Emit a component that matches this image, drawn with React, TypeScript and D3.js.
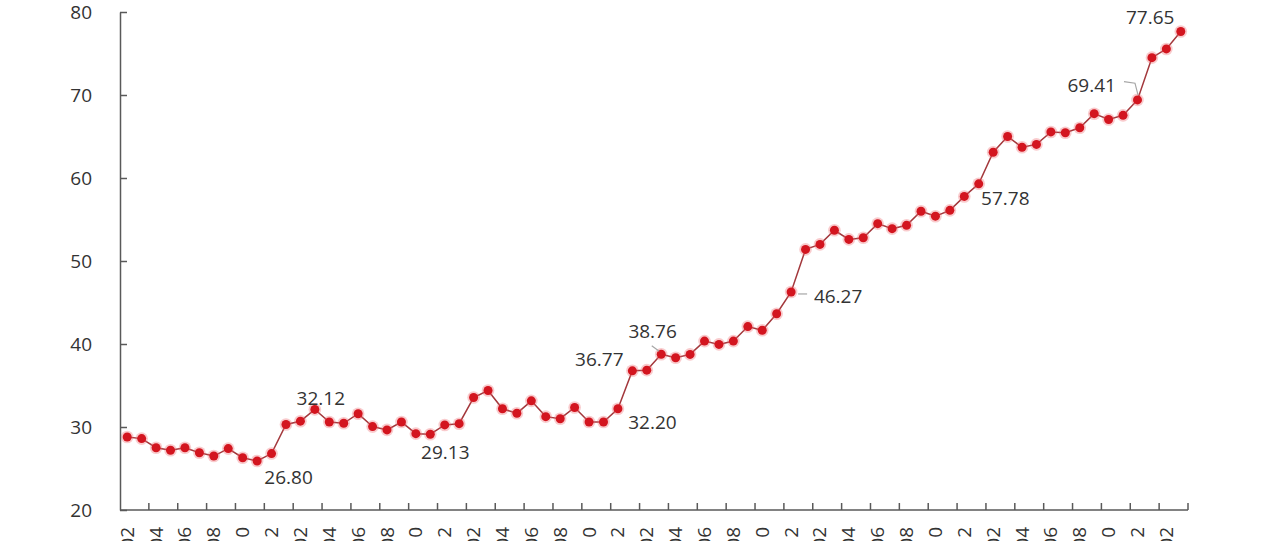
import React, { useEffect, useRef } from 'react';
import * as d3 from 'd3';

// monthly values, 2017-02 .. 2023-03
const values: number[] = [
  28.8, 28.6, 27.5, 27.2, 27.5, 26.9, 26.5, 27.4, 26.3, 25.9, 26.8, 30.3,
  30.7, 32.12, 30.6, 30.45, 31.6, 30.05, 29.65, 30.6, 29.2, 29.13, 30.25, 30.4,
  33.55, 34.4, 32.2, 31.65, 33.15, 31.25, 31.0, 32.35, 30.6, 30.6, 32.2, 36.77,
  36.85, 38.76, 38.35, 38.75, 40.35, 39.95, 40.35, 42.1, 41.65, 43.65, 46.27, 51.4,
  52.0, 53.7, 52.6, 52.8, 54.5, 53.9, 54.3, 56.0, 55.4, 56.1, 57.78, 59.3,
  63.1, 65.0, 63.7, 64.05, 65.55, 65.45, 66.05, 67.75, 67.05, 67.55, 69.41, 74.5,
  75.55, 77.65,
];

const startYear = 2017;
const startMonth = 2;
const categories: string[] = values.map((_, i) => {
  const m = startMonth - 1 + i;
  const y = startYear + Math.floor(m / 12);
  return `${y}-${String((m % 12) + 1).padStart(2, '0')}`;
});

const yTicks: number[] = [20, 30, 40, 50, 60, 70, 80];

// indices of points that carry a value label
const labelIndex: number[] = [10, 13, 21, 34, 35, 37, 46, 58, 70, 73];

// label placement relative to the point (px), and optional leader lines
const labelLayout: Record<number, { dx: number; dy: number; leader?: [number, number][] }> = {
  10: { dx: 17, dy: 23.5 },
  13: { dx: 6, dy: -11 },
  21: { dx: 15, dy: 17.5 },
  34: { dx: 34.5, dy: 13.7 },
  35: { dx: -33, dy: -11.7 },
  37: { dx: -8.6, dy: -23.4, leader: [[-9.5, -8.5], [-2, -3]] },
  46: { dx: 47, dy: 4.5, leader: [[7, 2], [16, 2]] },
  58: { dx: 41, dy: 1.5 },
  70: { dx: -45.8, dy: -14.3, leader: [[-13.5, -18.3], [-2.5, -16.7], [0.5, -5]] },
  73: { dx: -30.6, dy: -14 },
};

const App: React.FC = () => {
  const svgRef = useRef<SVGSVGElement>(null);

  useEffect(() => {
    if (!svgRef.current) return;
    const svg = d3.select(svgRef.current);
    svg.selectAll('*').remove();

    const width = 1280;
    const height = 541;
    const margin = { top: 12, right: 92, bottom: 31, left: 120 };
    const font = '"Open Sans", sans-serif';
    const fontSize = '19px';
    const textColor = '#333333';
    const axisColor = '#595959';

    svg.attr('width', width).attr('height', height);

    const x = d3
      .scaleBand<string>()
      .domain(categories)
      .range([margin.left, width - margin.right])
      .padding(0);
    const step = x.bandwidth();
    const cx = (i: number) => (x(categories[i]) ?? 0) + step / 2;

    const y = d3
      .scaleLinear()
      .domain([20, 80])
      .range([height - margin.bottom, margin.top]);

    const axisY = height - margin.bottom;

    // y axis
    const yAxis = svg
      .append('g')
      .attr('transform', `translate(${margin.left},0)`)
      .call(
        d3.axisLeft(y).tickValues(yTicks).tickSizeInner(-7).tickSizeOuter(0).tickPadding(28)
      );
    yAxis.select('.domain').attr('stroke', axisColor).attr('stroke-width', 1.5);
    yAxis.selectAll('.tick line').attr('stroke', axisColor).attr('stroke-width', 1.5);
    yAxis
      .selectAll('.tick text')
      .attr('fill', textColor)
      .style('font-family', font)
      .style('font-size', fontSize);

    // x axis line
    svg
      .append('line')
      .attr('x1', margin.left)
      .attr('x2', width - margin.right)
      .attr('y1', axisY)
      .attr('y2', axisY)
      .attr('stroke', axisColor)
      .attr('stroke-width', 1.5);

    // x ticks every two categories (at boundaries), pointing inward
    const tickPos = categories
      .map((c, i) => (i > 0 && i % 2 === 0 ? x(c) ?? 0 : null))
      .filter((v): v is number => v !== null);
    tickPos.push(width - margin.right);
    svg
      .selectAll('line.xtick')
      .data(tickPos)
      .enter()
      .append('line')
      .attr('class', 'xtick')
      .attr('x1', d => d)
      .attr('x2', d => d)
      .attr('y1', axisY)
      .attr('y2', axisY - 7)
      .attr('stroke', axisColor)
      .attr('stroke-width', 1.5);

    // x labels, rotated, every second month
    svg
      .selectAll('text.xlabel')
      .data(categories.map((c, i) => ({ c, i })).filter(d => d.i % 2 === 0))
      .enter()
      .append('text')
      .attr('class', 'xlabel')
      .attr('transform', d => `translate(${cx(d.i) + 6.5},${axisY + 17}) rotate(-90)`)
      .attr('text-anchor', 'end')
      .attr('fill', textColor)
      .style('font-family', font)
      .style('font-size', fontSize)
      .text(d => d.c);

    // line
    const line = d3
      .line<number>()
      .x((_, i) => cx(i))
      .y(d => y(d));
    svg
      .append('path')
      .datum(values)
      .attr('d', line)
      .attr('fill', 'none')
      .attr('stroke', '#a3383c')
      .attr('stroke-width', 1.5);

    // markers with soft halo
    svg
      .selectAll('circle.halo')
      .data(values)
      .enter()
      .append('circle')
      .attr('class', 'halo')
      .attr('cx', (_, i) => cx(i))
      .attr('cy', d => y(d))
      .attr('r', 6.3)
      .attr('fill', '#ee6a70')
      .attr('opacity', 0.35);
    svg
      .selectAll('circle.dot')
      .data(values)
      .enter()
      .append('circle')
      .attr('class', 'dot')
      .attr('cx', (_, i) => cx(i))
      .attr('cy', d => y(d))
      .attr('r', 4.5)
      .attr('fill', '#d3151f');

    // leader lines
    labelIndex.forEach(i => {
      const l = labelLayout[i];
      if (!l.leader) return;
      const px = cx(i);
      const py = y(values[i]);
      svg
        .append('path')
        .attr('d', d3.line()(l.leader.map(([a, b]) => [px + a, py + b] as [number, number])))
        .attr('fill', 'none')
        .attr('stroke', '#a6a6a6')
        .attr('stroke-width', 1.2);
    });

    // value labels
    svg
      .selectAll('text.vlabel')
      .data(labelIndex)
      .enter()
      .append('text')
      .attr('class', 'vlabel')
      .attr('x', i => cx(i) + labelLayout[i].dx)
      .attr('y', i => y(values[i]) + labelLayout[i].dy)
      .attr('dy', '0.36em')
      .attr('text-anchor', 'middle')
      .attr('fill', textColor)
      .style('font-family', font)
      .style('font-size', fontSize)
      .text(i => values[i].toFixed(2));
  }, []);

  return (
    <svg
      ref={svgRef}
      style={{ position: 'absolute', left: 0, top: 0, display: 'block', background: '#fff' }}
    ></svg>
  );
};

export default App;
